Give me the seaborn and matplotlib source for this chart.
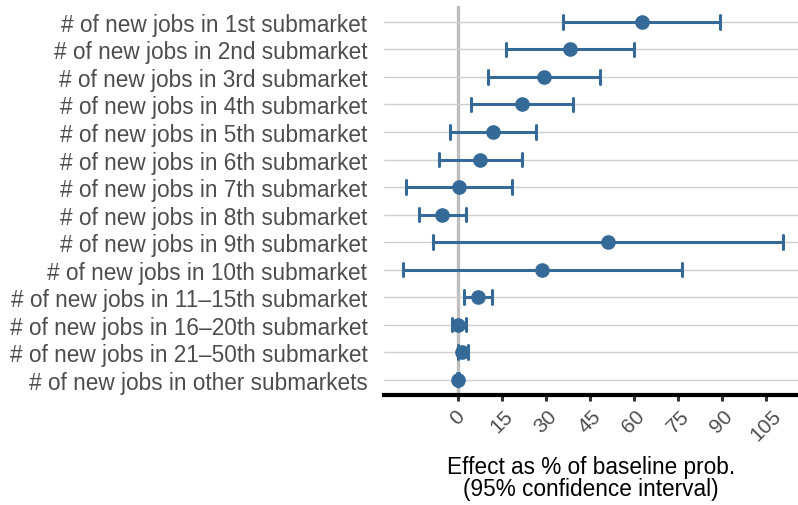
import matplotlib
matplotlib.use("Agg")
import matplotlib.pyplot as plt
import seaborn as sns
import pandas as pd

# Estimated effects (% of baseline probability) with 95% confidence bounds
labels = [
    "# of new jobs in 1st submarket",
    "# of new jobs in 2nd submarket",
    "# of new jobs in 3rd submarket",
    "# of new jobs in 4th submarket",
    "# of new jobs in 5th submarket",
    "# of new jobs in 6th submarket",
    "# of new jobs in 7th submarket",
    "# of new jobs in 8th submarket",
    "# of new jobs in 9th submarket",
    "# of new jobs in 10th submarket",
    "# of new jobs in 11\u201315th submarket",
    "# of new jobs in 16\u201320th submarket",
    "# of new jobs in 21\u201350th submarket",
    "# of new jobs in other submarkets",
]
estimate = [62.8, 38.1, 29.5, 21.9, 12.0, 7.5, 0.3, -5.5, 51.3, 28.8, 6.7, 0.2, 1.5, -0.1]
ci_low = [35.8, 16.3, 10.3, 4.5, -2.6, -6.6, -17.7, -13.4, -8.5, -18.8, 2.2, -1.9, -0.1, -0.4]
ci_high = [89.3, 59.9, 48.6, 39.1, 26.5, 21.7, 18.5, 2.6, 111.0, 76.3, 11.7, 2.7, 3.4, 0.3]
x_ticks = [0, 15, 30, 45, 60, 75, 90, 105]

# Long format: median of (low, estimate, high) is the estimate,
# and the full percentile interval spans low..high.
rows = []
for lab, lo, est, hi in zip(labels, ci_low, estimate, ci_high):
    for v in (lo, est, hi):
        rows.append({"term": lab, "effect": v})
df = pd.DataFrame(rows)

sns.set_theme(style="white")
plt.rcParams["font.family"] = ["Liberation Sans", "DejaVu Sans"]

fig = plt.figure(figsize=(7.98, 5.06), dpi=100)
ax = fig.add_axes([384 / 798, 1 - 396 / 506, 1 - 384 / 798, (396 - 7) / 506])

blue = "#356a98"
ax.axvline(0, color="#bdbdbd", lw=2.4, zorder=0)

sns.pointplot(
    data=df, x="effect", y="term", order=labels,
    estimator="median", errorbar=("pi", 100),
    color=blue, linestyle="none", markers="o", markersize=8.5,
    capsize=0.5, err_kws={"linewidth": 2.2}, ax=ax,
)

ax.set_xlim(-25.2, 116)
ax.set_ylim(13.56, -0.58)
ax.set_xticks(x_ticks)
ax.set_xticklabels([str(t) for t in x_ticks], rotation=45, ha="center",
                   fontsize=15, color="#4d4d4d")
ax.tick_params(axis="x", length=4, width=2.2, color="#333333", pad=4,
               direction="out", bottom=True)
ax.tick_params(axis="y", length=0, labelsize=16.3, labelcolor="#4d4d4d", pad=12)

ax.grid(axis="y", color="#d0d0d0", lw=1.0)
ax.grid(axis="x", visible=False)
ax.set_axisbelow(True)

for side in ("top", "right", "left"):
    ax.spines[side].set_visible(False)
ax.spines["bottom"].set_color("black")
ax.spines["bottom"].set_linewidth(3)

ax.set_ylabel("")
ax.set_xlabel("Effect as % of baseline prob.\n(95% confidence interval)",
              fontsize=16.3, color="black", linespacing=0.95)
ax.xaxis.set_label_coords(0.5, -0.155)

fig.savefig("out.png", dpi=100)
